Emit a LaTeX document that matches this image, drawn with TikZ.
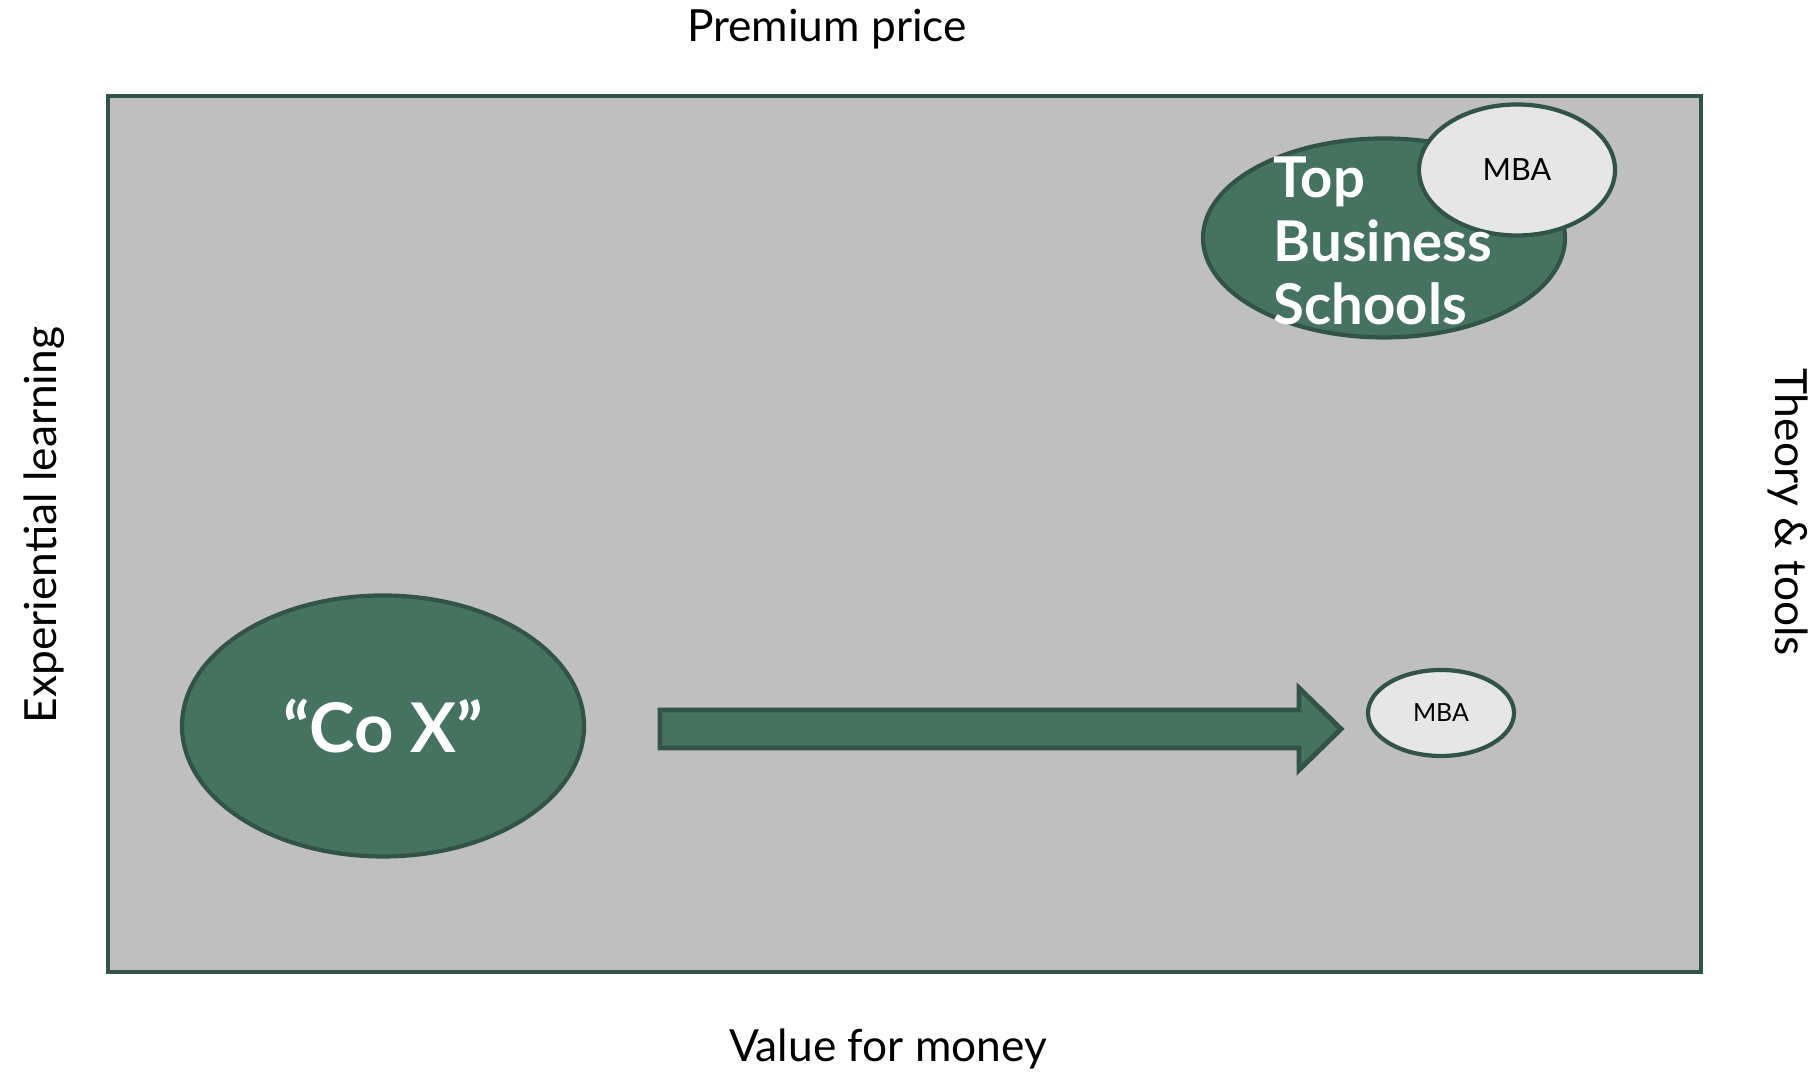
\documentclass[tikz,border=0pt]{standalone}
\usepackage{fontspec}
\setmainfont{Lato}
\usetikzlibrary{shapes.geometric,calc}
\definecolor{blobgreen}{RGB}{70,114,98}
\definecolor{edgegreen}{RGB}{50,84,70}
\definecolor{panelgray}{RGB}{191,191,191}
\definecolor{bubblegray}{RGB}{230,230,230}
\tikzset{
  greenblob/.style={ellipse, draw=edgegreen, line width=1.2pt, fill=blobgreen, inner sep=0pt},
  mbablob/.style={ellipse, draw=edgegreen, line width=1.2pt, fill=bubblegray, inner sep=0pt, text=black},
  axislabel/.style={font=\fontsize{12.6}{15}\selectfont, inner sep=0pt},
  bigwhite/.style={text=white, inner sep=0pt, font=\bfseries\fontsize{16}{18}\selectfont}
}
\begin{document}
\begin{tikzpicture}
  \useasboundingbox (0,0) rectangle (18.19,10.81);
  \begin{scope}
    \draw[fill=panelgray, draw=edgegreen, line width=1.2pt] (1.08,1.09) rectangle (17.01,9.85);
  \end{scope}
  % axis labels
  \node[axislabel, anchor=base] (price) at (8.27,10.39) {Premium price};
  \node[axislabel, anchor=base] (value) at (8.88,0.19) {Value for money};
  \node[axislabel, anchor=base, rotate=90] (learning) at (0.56,5.56) {Experiential learning};
  \node[axislabel, anchor=base, rotate=-90] (theory) at (17.75,5.69) {Theory \& tools};
  % bubbles
  \node[greenblob, minimum width=4.02cm, minimum height=2.61cm, bigwhite, font=\bfseries\fontsize{19.5}{20}\selectfont] (cox) at (3.83,3.55) {“Co X”};
  \node[greenblob, minimum width=3.62cm, minimum height=1.99cm] (top) at (13.84,8.43) {};
  \node[mbablob, minimum width=1.96cm, minimum height=1.31cm, font=\fontsize{8.7}{10}\selectfont] (mbatop) at (15.17,9.11) {MBA};
  \node[bigwhite, align=left, anchor=west] (toplabel) at (12.73,8.40) {Top\\Business\\Schools};
  \node[mbablob, minimum width=1.46cm, minimum height=0.86cm, font=\fontsize{7.1}{9}\selectfont] (mbalow) at (14.41,3.68) {MBA};
  % shift arrow
  \coordinate (tail) at (6.60,3.52);
  \coordinate (head) at (12.99,3.52);
  \coordinate (tip) at (13.41,3.52);
  \draw[fill=blobgreen, draw=edgegreen, line width=1.4pt]
    ($(tail)+(0,0.19)$) -- ($(head)+(0,0.19)$) -- ($(head)+(0,0.41)$) -- (tip)
    -- ($(head)+(0,-0.41)$) -- ($(head)+(0,-0.19)$) -- ($(tail)+(0,-0.19)$) -- cycle;
\end{tikzpicture}
\end{document}
